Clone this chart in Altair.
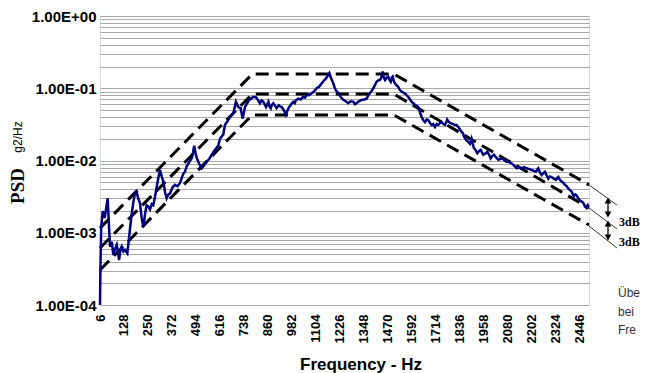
import altair as alt
import pandas as pd

# ---------------- data ----------------
freq = [6, 8, 12, 20, 30, 45, 52, 57, 66, 74, 83, 91, 97, 103, 110, 116, 125, 133, 145,
        158, 167, 175, 183, 192, 200, 209, 218, 226, 235, 243, 252, 260, 269, 277, 286,
        294, 303, 311, 320, 328, 337, 345, 354, 362, 374, 387, 400, 413, 422, 430, 438,
        446, 459, 472, 479, 485, 491, 497, 510, 523, 535, 548, 561, 574, 590, 607, 616,
        633, 641, 654, 667, 684, 697, 709, 721, 731, 737, 743, 754, 765, 775, 785, 799,
        810, 819, 828, 836, 843, 850, 856, 862, 868, 874, 880, 887, 895, 904, 915, 922,
        929, 940, 951, 960, 968, 978, 989, 996, 1002, 1014, 1026, 1039, 1048, 1057, 1068,
        1082, 1094, 1107, 1120, 1133, 1145, 1155, 1163, 1172, 1180, 1192, 1200, 1209,
        1220, 1231, 1243, 1255, 1268, 1280, 1294, 1302, 1310, 1322, 1336, 1350, 1362,
        1370, 1378, 1387, 1395, 1404, 1412, 1420, 1429, 1436, 1443, 1449, 1455, 1463,
        1471, 1478, 1484, 1489, 1494, 1500, 1505, 1513, 1522, 1530, 1539, 1547, 1556,
        1565, 1573, 1582, 1590, 1599, 1607, 1616, 1624, 1632, 1641, 1650, 1658, 1667,
        1675, 1684, 1692, 1700, 1709, 1718, 1726, 1735, 1743, 1752, 1760, 1766, 1771,
        1780, 1789, 1800, 1810, 1819, 1827, 1835, 1844, 1850, 1858, 1870, 1879, 1887,
        1895, 1901, 1907, 1915, 1924, 1933, 1941, 1948, 1954, 1965, 1975, 1984, 1992,
        2000, 2009, 2020, 2031, 2042, 2053, 2063, 2073, 2086, 2099, 2112, 2124, 2137,
        2150, 2162, 2175, 2188, 2200, 2211, 2222, 2228, 2234, 2243, 2251, 2260, 2268,
        2277, 2285, 2293, 2302, 2313, 2324, 2330, 2336, 2344, 2353, 2362, 2370, 2379,
        2387, 2395, 2404, 2410, 2415, 2422, 2429, 2437, 2446, 2455, 2463, 2472, 2480,
        2486, 2490]
psd = [1.0e-4, 3.0e-4, 1.2e-3, 2.0e-3, 1.6e-3, 3.0e-3, 1.2e-3, 6.4e-4, 7.5e-4, 4.9e-4,
       6.0e-4, 6.8e-4, 5.5e-4, 4.2e-4, 5.8e-4, 6.4e-4, 5.5e-4, 5.8e-4, 5.2e-4,
       1.1e-3, 1.8e-3, 2.6e-3, 3.4e-3, 3.7e-3, 3.0e-3, 2.6e-3, 1.6e-3, 1.2e-3, 1.8e-3,
       2.4e-3, 2.3e-3, 2.1e-3, 2.5e-3, 2.4e-3, 3.2e-3,
       4.3e-3, 5.8e-3, 7.4e-3, 6.0e-3, 5.1e-3, 3.6e-3, 3.0e-3, 3.4e-3, 3.5e-3, 4.2e-3,
       4.6e-3, 4.4e-3, 4.9e-3, 5.8e-3, 6.6e-3, 7.0e-3,
       8.2e-3, 9.5e-3, 1.07e-2, 1.3e-2, 1.6e-2, 1.3e-2, 1.1e-2, 9.0e-3, 7.8e-3, 8.5e-3,
       9.6e-3, 1.05e-2, 1.2e-2, 1.4e-2, 1.6e-2, 2.0e-2,
       2.3e-2, 3.1e-2, 3.5e-2, 4.0e-2, 4.5e-2, 6.5e-2, 5.5e-2, 5.3e-2, 3.8e-2, 4.5e-2,
       5.5e-2, 6.2e-2, 6.9e-2, 7.2e-2, 7.6e-2, 7.5e-2,
       6.8e-2, 6.2e-2, 6.8e-2, 6.5e-2, 6.0e-2, 5.5e-2, 6.0e-2, 6.5e-2, 5.6e-2, 5.3e-2,
       5.9e-2, 6.2e-2, 5.8e-2, 5.3e-2, 5.8e-2, 5.6e-2,
       5.5e-2, 5.0e-2, 4.3e-2, 5.0e-2, 5.5e-2, 6.0e-2, 6.5e-2, 6.2e-2, 6.8e-2, 7.2e-2,
       7.0e-2, 7.6e-2, 7.4e-2, 8.1e-2, 8.0e-2,
       8.5e-2, 9.0e-2, 0.100, 0.105, 0.117, 0.128, 0.137, 0.148, 0.162, 0.140, 0.117,
       0.100, 0.090,
       0.085, 0.075, 0.069, 0.066, 0.062, 0.066, 0.065, 0.060, 0.062, 0.066, 0.069, 0.070,
       0.072,
       0.080, 0.085, 0.092, 0.100, 0.110, 0.123, 0.128, 0.130, 0.140, 0.170, 0.140, 0.130,
       0.140,
       0.145, 0.130, 0.123, 0.140, 0.145, 0.125, 0.117, 0.110, 0.105, 0.095, 0.090, 0.087,
       0.085,
       0.080, 0.076, 0.070, 0.065, 0.062, 0.059, 0.057, 0.055, 0.047, 0.040, 0.036, 0.034,
       0.037,
       0.036, 0.033, 0.031, 0.032, 0.029, 0.032, 0.031, 0.033, 0.034, 0.032, 0.031, 0.034,
       0.037,
       0.034, 0.033, 0.032, 0.031, 0.031, 0.029, 0.027, 0.025, 0.024, 0.021, 0.019, 0.018,
       0.017,
       0.020, 0.017, 0.0148, 0.014, 0.0126, 0.0135, 0.014, 0.013, 0.012, 0.0125, 0.0132,
       0.012, 0.0107,
       0.0115, 0.012, 0.011, 0.0102, 0.0105, 0.0107, 0.010, 0.0096, 0.0095, 0.0091, 0.0085,
       0.0078, 0.0080,
       0.0078, 0.0081, 0.0078, 0.0076, 0.0074, 0.0072, 0.0070, 0.0074, 0.0078, 0.0068,
       0.0063, 0.0067, 0.0070,
       0.0062, 0.0056, 0.0060, 0.0059, 0.0056, 0.0054, 0.0057, 0.0059, 0.0054, 0.0051,
       0.0049, 0.0046, 0.0044,
       0.0041, 0.0039, 0.0037, 0.0034, 0.0032, 0.0034, 0.0033, 0.0030, 0.0028, 0.0027,
       0.0026, 0.0023, 0.0022,
       0.0024, 0.0023]

# tolerance profile (nominal, +3dB, -3dB)
prof_freq = [6, 780, 1500, 2492]
prof_upper = [1.16e-3, 0.157, 0.157, 4.6e-3]
prof_nominal = [6.15e-4, 0.083, 0.083, 2.2e-3]
prof_lower = [3.05e-4, 0.0427, 0.0427, 1.28e-3]

# leader lines to the 3dB annotation
lead_freq = [2492, 2634]
lead_upper = [4.6e-3, 2.42e-3]
lead_nominal = [2.2e-3, 1.13e-3]
lead_lower = [1.24e-3, 6.15e-4]

x_ticks = [6, 128, 250, 372, 494, 616, 738, 860, 982, 1104, 1226, 1348, 1470, 1592,
           1714, 1836, 1958, 2080, 2202, 2324, 2446]
decades = [1e-4, 1e-3, 1e-2, 1e-1, 1.0]
y_grid = sorted(set([round(m * d, 10) for d in decades[:-1] for m in range(1, 10)] + [1.0]))

x_title = "Frequency - Hz"
y_title = "PSD"
y_unit = "g2/Hz"
band_label = "3dB"
note_lines = ["Übe", "bei", "Fre"]

# ---------------- tables ----------------
curve = pd.DataFrame({"freq": freq, "psd": psd})
prof = pd.DataFrame({
    "freq": prof_freq * 3,
    "psd": prof_upper + prof_nominal + prof_lower,
    "band": ["upper"] * 4 + ["nominal"] * 4 + ["lower"] * 4,
})
lead = pd.DataFrame({
    "freq": lead_freq * 3,
    "psd": lead_upper + lead_nominal + lead_lower,
    "band": ["upper"] * 2 + ["nominal"] * 2 + ["lower"] * 2,
})
one = pd.DataFrame({"k": [0]})

label_expr = ("abs(log(datum.value)/LN10 - round(log(datum.value)/LN10)) < 0.001 ? "
              "(datum.value >= 1 ? '1.00E+00' : '1.00E-0' + format(-round(log(datum.value)/LN10), 'd')) : ''")

xs = alt.Scale(domain=[6, 2492], nice=False, zero=False)
ys = alt.Scale(type="log", domain=[1e-4, 1], nice=False)

x_axis = alt.Axis(
    values=x_ticks, format="d", labelAngle=270, labelFont="Liberation Sans",
    labelFontWeight="bold", labelFontSize=13, labelColor="black", grid=False, ticks=False,
    tickSize=0, domain=False, title=None, labelPadding=9, labelOverlap=False,
    labelFlush=False, labelBound=False, labelSeparation=0)
y_axis = alt.Axis(
    values=y_grid, labelExpr=label_expr, grid=True, gridColor="#a8a8a8", gridWidth=1,
    ticks=False, tickSize=0, domain=False, title=None, labelFont="Liberation Sans",
    labelFontWeight="bold", labelFontSize=15, labelColor="black", labelPadding=4,
    labelOverlap=False, labelFlush=False, labelBound=False)

X = alt.X("freq:Q", scale=xs, axis=x_axis)
Y = alt.Y("psd:Q", scale=ys, axis=y_axis)

dashed = alt.Chart(prof).mark_line(color="black", strokeWidth=3, strokeDash=[13, 7],
                                   strokeCap="butt").encode(x=X, y=Y, detail="band:N")
leaders = alt.Chart(lead).mark_line(color="black", strokeWidth=0.8).encode(
    x=X, y=Y, detail="band:N")
line = alt.Chart(curve).mark_line(color="#000080", strokeWidth=2.5).encode(x=X, y=Y)

layers = [dashed, leaders, line]

# arrows (pixel annotations)
for (y1, y2) in [(183, 200), (206, 223)]:
    layers.append(alt.Chart(one).mark_rule(color="black", strokeWidth=1.3).encode(
        x=alt.value(508), y=alt.value(y1), y2=alt.value(y2)))
for (yy, shp) in [(184.5, "triangle-up"), (198.5, "triangle-down"),
                  (207.5, "triangle-up"), (221.5, "triangle-down")]:
    layers.append(alt.Chart(one).mark_point(shape=shp, filled=True, color="black", size=45,
                                            opacity=1).encode(x=alt.value(508), y=alt.value(yy)))

def txt(s, x, y, **kw):
    return alt.Chart(one).mark_text(text=s, **kw).encode(x=alt.value(x), y=alt.value(y))

layers += [
    txt(band_label, 519, 210, align="left", baseline="alphabetic", font="Liberation Serif",
        fontWeight="bold", fontSize=12, color="black"),
    txt(band_label, 519, 230, align="left", baseline="alphabetic", font="Liberation Serif",
        fontWeight="bold", fontSize=12, color="black"),
    txt(x_title, 261, 354, align="center", baseline="alphabetic", font="Liberation Sans",
        fontWeight="bold", fontSize=17, color="black"),
    txt(y_title, -82, 170, align="center", baseline="middle", angle=270,
        font="Liberation Serif", fontWeight="bold", fontSize=19, color="black"),
    txt(y_unit, -82, 121, align="center", baseline="middle", angle=270,
        font="Liberation Sans", fontSize=12, color="black"),
]
for i, s in enumerate(note_lines):
    layers.append(txt(s, 518, 281 + i * 18.5, align="left", baseline="alphabetic",
                      font="Liberation Sans", fontSize=12, color="#333333"))

chart = alt.layer(*layers).properties(
    width=489, height=289,
    autosize=alt.AutoSizeParams(type="none"),
    padding={"left": 92, "top": 8, "right": 51, "bottom": 68},
).configure_view(stroke="black", strokeWidth=3).configure(background="white")

chart.save("out.html", embed_options={"renderer": "svg", "actions": False})
